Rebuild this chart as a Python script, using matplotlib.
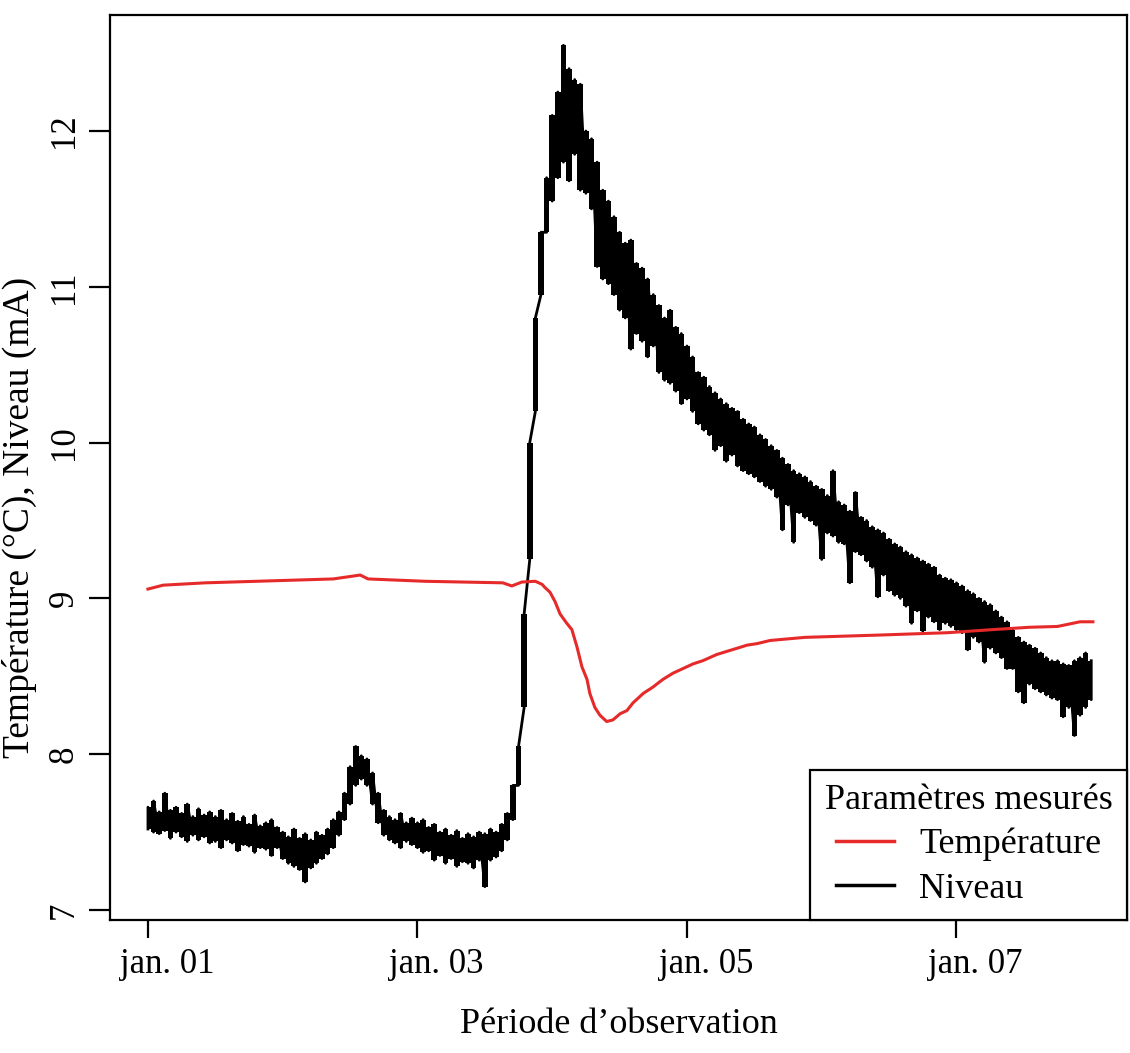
import numpy as np
import matplotlib.pyplot as plt
from matplotlib.transforms import ScaledTranslation

plt.rcParams['font.family'] = ['Liberation Serif', 'DejaVu Serif']

# Niveau (mA) : valeurs basse et haute relevées sur chaque heure,
# du 1er janvier 0h (heure 0) au 8 janvier 0h (heure 168)
niveau_haut = [
    7.66, 7.70, 7.63, 7.75, 7.64, 7.66, 7.62, 7.68, 7.60, 7.65, 7.61, 7.63,
    7.60, 7.64, 7.58, 7.62, 7.57, 7.60, 7.55, 7.61, 7.54, 7.56, 7.58, 7.53,
    7.50, 7.47, 7.52, 7.46, 7.49, 7.45, 7.50, 7.48, 7.52, 7.58, 7.63, 7.75,
    7.92, 8.05, 7.99, 7.97, 7.88, 7.75, 7.64, 7.60, 7.58, 7.62, 7.56, 7.59,
    7.56, 7.58, 7.53, 7.55, 7.50, 7.52, 7.48, 7.51, 7.46, 7.49, 7.47, 7.50,
    7.49, 7.52, 7.50, 7.55, 7.62, 7.80, 8.05, 8.90, 10.0, 10.8, 11.35, 11.70,
    12.10, 12.25, 12.55, 12.40, 12.33, 12.30, 12.00, 11.95, 11.80, 11.62, 11.55, 11.45,
    11.35, 11.28, 11.30, 11.15, 11.12, 11.05, 10.95, 10.88, 10.80, 10.85, 10.74, 10.70,
    10.62, 10.55, 10.45, 10.42, 10.36, 10.32, 10.28, 10.25, 10.22, 10.20, 10.15, 10.12,
    10.10, 10.05, 10.02, 9.98, 9.95, 9.90, 9.86, 9.82, 9.80, 9.78, 9.75, 9.72,
    9.70, 9.66, 9.82, 9.62, 9.60, 9.56, 9.68, 9.52, 9.50, 9.46, 9.44, 9.42,
    9.38, 9.35, 9.33, 9.30, 9.28, 9.26, 9.24, 9.22, 9.20, 9.15, 9.13, 9.12,
    9.10, 9.08, 9.05, 9.03, 9.00, 8.98, 8.96, 8.92, 8.88, 8.85, 8.80, 8.75,
    8.72, 8.70, 8.68, 8.65, 8.62, 8.60, 8.60, 8.58, 8.57, 8.60, 8.62, 8.65, 8.60,
]
niveau_bas = [
    7.52, 7.50, 7.49, 7.51, 7.46, 7.50, 7.47, 7.44, 7.48, 7.45, 7.47, 7.43,
    7.44, 7.40, 7.45, 7.43, 7.38, 7.42, 7.41, 7.37, 7.40, 7.39, 7.35, 7.40,
    7.33, 7.30, 7.28, 7.26, 7.18, 7.27, 7.30, 7.33, 7.36, 7.40, 7.48, 7.58,
    7.68, 7.80, 7.84, 7.80, 7.68, 7.56, 7.48, 7.45, 7.43, 7.40, 7.44, 7.42,
    7.40, 7.37, 7.38, 7.32, 7.35, 7.30, 7.33, 7.28, 7.31, 7.30, 7.27, 7.32,
    7.15, 7.32, 7.34, 7.38, 7.45, 7.58, 7.80, 8.30, 9.25, 10.2, 10.95, 11.35,
    11.55, 11.70, 11.80, 11.68, 11.85, 11.62, 11.60, 11.50, 11.13, 11.05, 11.02, 10.95,
    10.85, 10.80, 10.60, 10.70, 10.65, 10.55, 10.62, 10.45, 10.40, 10.38, 10.33, 10.25,
    10.28, 10.20, 10.12, 10.08, 10.05, 9.95, 9.98, 9.88, 9.92, 9.85, 9.82, 9.80,
    9.78, 9.75, 9.72, 9.70, 9.65, 9.44, 9.60, 9.36, 9.55, 9.52, 9.50, 9.47,
    9.25, 9.42, 9.40, 9.36, 9.35, 9.10, 9.30, 9.28, 9.24, 9.20, 9.01, 9.15,
    9.05, 9.02, 9.00, 8.95, 8.84, 8.92, 8.79, 8.88, 8.85, 8.80, 8.84, 8.82,
    8.80, 8.78, 8.67, 8.75, 8.72, 8.59, 8.68, 8.65, 8.62, 8.55, 8.55, 8.40,
    8.33, 8.45, 8.42, 8.40, 8.38, 8.36, 8.35, 8.24, 8.30, 8.12, 8.25, 8.30, 8.35,
]

# Température (°C) : relevés de la sonde (heure, valeur)
temp_heures = [0, 2.7, 10.2, 19.4, 33, 37.8, 39.2, 49.3, 63.2, 64.8, 66.6, 69, 70.2,
               70.7, 71.6, 72.5, 73.4, 74.6, 75.5, 76.4, 77.3, 78.2, 78.7, 79.6, 80.5,
               81.7, 82.8, 84.1, 85.3, 86.4, 88.2, 89.9, 91.7, 93.5, 95.3, 97.1, 98.8,
               101.3, 103.1, 104.9, 106.7, 108.5, 110.8, 117, 130.4, 142.5, 150.5,
               157.1, 162, 166, 168.3]
temp_valeurs = [9.06, 9.085, 9.10, 9.11, 9.125, 9.15, 9.125, 9.11, 9.10, 9.08, 9.105, 9.11, 9.09,
                9.07, 9.04, 8.98, 8.90, 8.84, 8.80, 8.69, 8.56, 8.48, 8.39, 8.30, 8.25,
                8.21, 8.22, 8.26, 8.28, 8.33, 8.39, 8.43, 8.48, 8.52, 8.55, 8.58, 8.60,
                8.64, 8.66, 8.68, 8.70, 8.71, 8.73, 8.75, 8.765, 8.78, 8.80,
                8.815, 8.82, 8.85, 8.85]

tick_jours = [0, 2, 4, 6]
tick_labels = ["jan. 01", "jan. 03", "jan. 05", "jan. 07"]
y_ticks = [7, 8, 9, 10, 11, 12]

# min/max de chaque heure, reliés dans l'ordre
jours = np.arange(len(niveau_haut)) / 24
x_niv = np.repeat(jours, 2)
y_niv = np.column_stack([niveau_bas, niveau_haut]).ravel()

fig = plt.figure(figsize=(11.3, 10.53), dpi=100)
ax = fig.add_axes([0.0973, 0.1263, 0.9, 0.8594])

ax.fill_between(jours, niveau_bas, niveau_haut, step='mid', color='black', lw=0, zorder=2)
ax.plot(x_niv, y_niv, color='black', lw=2.0, label='Niveau', zorder=2)
ax.plot(np.array(temp_heures) / 24, temp_valeurs, color='#e62a2a', lw=2.2,
        label='Température', zorder=3)

ax.set_xlim(-0.282, 7.265)
ax.set_ylim(6.936, 12.744)

ax.set_xticks(tick_jours)
ax.set_xticklabels(tick_labels)
ax.set_yticks(y_ticks)
for s in ax.spines.values():
    s.set_linewidth(1.6)
ax.tick_params(axis='x', length=13, width=1.6, pad=7, labelsize=25)
ax.tick_params(axis='y', length=15, width=1.6, pad=6, labelsize=25, labelrotation=90)
for lab in ax.get_yticklabels():
    lab.set_verticalalignment('center')
for lab in ax.get_xticklabels():
    lab.set_transform(lab.get_transform() + ScaledTranslation(0.19, 0, fig.dpi_scale_trans))

ax.set_xlabel("Période d’observation", fontsize=26)
ax.set_ylabel("Température (°C), Niveau (mA)", fontsize=27)
ax.xaxis.set_label_coords(0.5, -0.097)
ax.yaxis.set_label_coords(-0.072, 0.445)

h, l = ax.get_legend_handles_labels()
leg = ax.legend(h[::-1], l[::-1], title="Paramètres mesurés", loc='lower right',
                fontsize=26, title_fontsize=26, frameon=True, fancybox=False,
                borderaxespad=0, handlelength=1.6, handletextpad=0.7,
                labelspacing=0.3, borderpad=0.4, framealpha=1)
leg.get_frame().set_edgecolor('black')
leg.get_frame().set_linewidth(1.6)
for line in leg.get_lines():
    line.set_linewidth(2.5)

fig.savefig("out.png", dpi=100)
